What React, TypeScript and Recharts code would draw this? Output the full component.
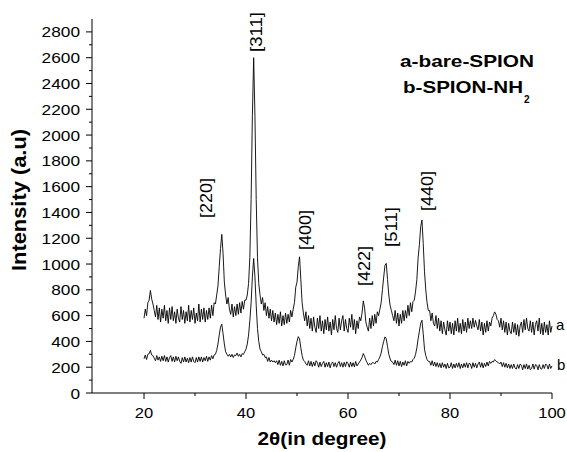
import { Line, LineChart, XAxis, YAxis } from "recharts";

// 2θ grid: 20° to 100° in 0.25° steps, one row of four per degree
const startAngle = 20;
const stepAngle = 0.25;

// a - bare SPION
const bareSpion = [
  580, 650, 600, 700, // 20
  720, 795, 730, 690,
  640, 590, 680, 570,
  660, 550, 650, 580,
  680, 560, 640, 540,
  660, 570, 670, 560, // 25
  630, 540, 650, 580,
  550, 670, 570, 640,
  540, 630, 560, 680,
  550, 640, 570, 660,
  540, 620, 560, 690, // 30
  550, 650, 570, 660,
  550, 640, 570, 660,
  580, 680, 600, 700,
  690, 760, 830, 980,
  1120, 1230, 1080, 860, // 35
  760, 690, 740, 650,
  610, 690, 590, 670,
  600, 690, 610, 700,
  620, 710, 650, 720,
  720, 760, 850, 1050, // 40
  1500, 2150, 2600, 2150,
  1500, 1050, 850, 760,
  690, 740, 640, 700,
  600, 670, 580, 650,
  560, 640, 550, 620, // 45
  530, 610, 540, 630,
  520, 600, 530, 620,
  540, 610, 550, 640,
  590, 650, 700, 820,
  860, 980, 1056, 880, // 50
  700, 620, 560, 630,
  520, 600, 500, 580,
  480, 590, 510, 470,
  580, 500, 600, 480,
  560, 460, 570, 490, // 55
  590, 480, 550, 450,
  570, 490, 600, 500,
  470, 580, 490, 560,
  600, 480, 570, 500,
  470, 580, 510, 610, // 60
  490, 570, 460, 560,
  500, 590, 560, 620,
  714, 660, 550, 510,
  480, 580, 500, 600,
  520, 610, 540, 630, // 65
  600, 650, 700, 800,
  900, 990, 1005, 880,
  760, 680, 640, 600,
  560, 640, 540, 620,
  520, 610, 540, 640, // 70
  560, 640, 580, 680,
  600, 700, 630, 710,
  720, 790, 880, 1050,
  1150, 1290, 1341, 1160,
  940, 800, 700, 640, // 75
  640, 560, 620, 540,
  520, 600, 500, 580,
  480, 560, 460, 550,
  490, 450, 560, 480,
  550, 460, 540, 450, // 80
  560, 480, 580, 470,
  540, 460, 570, 480,
  550, 470, 580, 500,
  560, 500, 580, 510,
  563, 520, 490, 570, // 85
  480, 550, 450, 540,
  470, 560, 480, 550,
  520, 580, 600, 629,
  610, 570, 560, 510,
  580, 490, 560, 470, // 90
  550, 450, 540, 480,
  460, 550, 470, 540,
  450, 530, 440, 520,
  550, 470, 570, 490,
  580, 500, 480, 560, // 95
  470, 550, 450, 530,
  560, 480, 580, 460,
  540, 450, 550, 470,
  530, 450, 560, 470,
  520, // 100
];

// b - SPION-NH2
const aminoSpion = [
  265, 295, 260, 300, // 20
  305, 330, 295, 290,
  270, 250, 290, 255,
  280, 245, 285, 250,
  290, 245, 280, 240,
  275, 290, 245, 280, // 25
  240, 285, 250, 280,
  245, 230, 275, 240,
  280, 240, 270, 235,
  275, 240, 280, 245,
  235, 275, 240, 280, // 30
  245, 280, 240, 275,
  250, 285, 245, 280,
  255, 290, 265, 295,
  300, 330, 380, 450,
  510, 533, 460, 380, // 35
  320, 300, 285, 300,
  280, 300, 275, 295,
  290, 310, 285, 300,
  280, 305, 300, 320,
  340, 380, 450, 560, // 40
  700, 900, 1043, 900,
  680, 500, 400, 340,
  320, 295, 300, 275,
  280, 245, 275, 240,
  255, 240, 250, 235, // 45
  250, 220, 255, 215,
  245, 210, 250, 218,
  220, 255, 215, 260,
  240, 260, 290, 350,
  400, 437, 420, 350, // 50
  290, 255, 245, 225,
  215, 250, 210, 245,
  205, 240, 210, 250,
  235, 200, 240, 205,
  230, 245, 200, 235, // 55
  205, 240, 195, 230,
  240, 205, 235, 200,
  230, 245, 205, 235,
  200, 238, 205, 242,
  230, 200, 240, 205, // 60
  235, 202, 245, 210,
  225, 240, 255, 275,
  306, 285, 255, 235,
  215, 230, 220, 235,
  235, 225, 245, 240, // 65
  260, 280, 310, 360,
  400, 435, 420, 360,
  300, 265, 245, 240,
  220, 255, 215, 250,
  210, 245, 205, 240, // 70
  215, 250, 210, 245,
  230, 245, 240, 260,
  270, 300, 350, 420,
  480, 540, 564, 460,
  340, 290, 260, 245, // 75
  245, 215, 250, 210,
  240, 205, 235, 200,
  230, 195, 235, 200,
  225, 190, 230, 195,
  200, 235, 190, 225, // 80
  195, 230, 200, 235,
  190, 225, 195, 230,
  200, 235, 195, 230,
  225, 190, 235, 200,
  230, 195, 225, 240, // 85
  200, 235, 195, 230,
  205, 240, 210, 245,
  230, 245, 240, 259,
  250, 240, 235, 225,
  240, 205, 235, 200, // 90
  230, 195, 225, 190,
  220, 190, 225, 195,
  185, 220, 190, 225,
  215, 180, 220, 190,
  225, 185, 215, 180, // 95
  190, 225, 185, 220,
  215, 180, 220, 190,
  185, 220, 190, 225,
  215, 185, 225, 190,
  210, // 100
];

const xTicks = [20, 30, 40, 50, 60, 70, 80, 90, 100];
const yTicks = [
  0, 100, 200, 300, 400, 500, 600, 700, 800, 900, 1000, 1100, 1200, 1300, 1400,
  1500, 1600, 1700, 1800, 1900, 2000, 2100, 2200, 2300, 2400, 2500, 2600, 2700, 2800,
];

const peakLabels = ["[220]", "[311]", "[400]", "[422]", "[511]", "[440]"];
const legendLines = ["a-bare-SPION", "b-SPION-NH"];

const data = bareSpion.map((a, i) => ({
  t: startAngle + i * stepAngle,
  a,
  b: aminoSpion[i],
}));

const font = "'Liberation Sans', Arial, Helvetica, sans-serif";

function XTick(props: any) {
  const { x, y, payload } = props;
  const v = payload.value;
  const major = v % 20 === 0;
  return (
    <g>
      <line x1={x} x2={x} y1={y} y2={y + (major ? 6 : 3)} stroke="#000" />
      {major && (
        <text
          x={x}
          y={y + 25}
          textAnchor="middle"
          fontSize={15}
          fontFamily={font}
          fill="#000"
          textLength={String(v).length * 9.2}
          lengthAdjust="spacingAndGlyphs"
        >
          {v}
        </text>
      )}
    </g>
  );
}

function YTick(props: any) {
  const { x, y, payload } = props;
  const v = payload.value;
  const major = v % 200 === 0;
  return (
    <g>
      <line x1={x} x2={x - (major ? 6 : 3)} y1={y} y2={y} stroke="#000" />
      {major && (
        <text
          x={x - 12}
          y={y + 5.5}
          textAnchor="end"
          fontSize={15}
          fontFamily={font}
          fill="#000"
          textLength={String(v).length * 9.6}
          lengthAdjust="spacingAndGlyphs"
        >
          {v}
        </text>
      )}
    </g>
  );
}

// where each peak label sits (centre, page pixels)
const peakPos = [
  [206, 198],
  [255.5, 32],
  [305, 230],
  [363.5, 266],
  [391, 227],
  [426.5, 191],
];

export default function App() {
  return (
    <div style={{ position: "absolute", left: 0, top: 0, width: 567, height: 452, background: "#fff" }}>
      <LineChart
        width={567}
        height={452}
        data={data}
        margin={{ top: 19, right: 15, bottom: 0, left: 0 }}
      >
        <XAxis
          type="number"
          dataKey="t"
          domain={[9.8, 100]}
          ticks={xTicks}
          interval={0}
          height={59}
          tickSize={0}
          tickMargin={0}
          tick={<XTick />}
          axisLine={{ stroke: "#000", strokeWidth: 1 }}
        />
        <YAxis
          type="number"
          domain={[0, 2900]}
          ticks={yTicks}
          interval={0}
          width={92}
          tickSize={0}
          tickMargin={0}
          tick={<YTick />}
          axisLine={{ stroke: "#000", strokeWidth: 1 }}
        />
        <Line type="linear" dataKey="a" stroke="#000" strokeWidth={0.9} dot={false} isAnimationActive={false} />
        <Line type="linear" dataKey="b" stroke="#000" strokeWidth={0.9} dot={false} isAnimationActive={false} />
      </LineChart>
      <svg
        width={567}
        height={452}
        style={{ position: "absolute", left: 0, top: 0, pointerEvents: "none" }}
        fontFamily={font}
      >
        <text
          x={322}
          y={445}
          textAnchor="middle"
          fontSize={19}
          fontWeight="bold"
          textLength={129}
          lengthAdjust="spacingAndGlyphs"
        >
          2θ(in degree)
        </text>
        <text
          x={0}
          y={0}
          transform="translate(26,200) rotate(-90)"
          textAnchor="middle"
          fontSize={20}
          fontWeight="bold"
          textLength={142}
          lengthAdjust="spacingAndGlyphs"
        >
          Intensity (a.u)
        </text>
        {peakLabels.map((p, i) => (
          <text
            key={p}
            x={0}
            y={0}
            transform={`translate(${peakPos[i][0]},${peakPos[i][1]}) rotate(-90)`}
            textAnchor="middle"
            dy={6}
            fontSize={16}
            textLength={40}
            lengthAdjust="spacingAndGlyphs"
          >
            {p}
          </text>
        ))}
        <text x={400} y={67} fontSize={17} fontWeight="bold" textLength={134} lengthAdjust="spacingAndGlyphs">
          {legendLines[0]}
        </text>
        <text x={403} y={93} fontSize={17} fontWeight="bold" textLength={120} lengthAdjust="spacingAndGlyphs">
          {legendLines[1]}
        </text>
        <text x={524} y={103} fontSize={10} fontWeight="bold">
          2
        </text>
        <text x={556} y={330} fontSize={15}>
          a
        </text>
        <text x={557} y={370} fontSize={15}>
          b
        </text>
      </svg>
    </div>
  );
}
